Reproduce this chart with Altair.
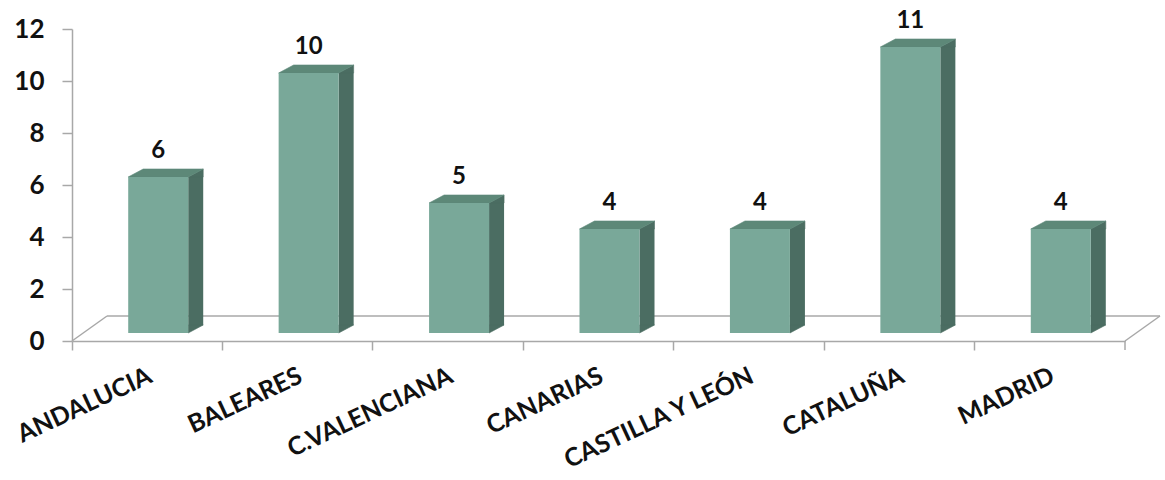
import altair as alt
import pandas as pd

# ---- data ----
regions = ["ANDALUCIA", "BALEARES", "C.VALENCIANA", "CANARIAS",
           "CASTILLA Y LEÓN", "CATALUÑA", "MADRID"]
counts = [6, 10, 5, 4, 4, 11, 4]
y_ticks = [0, 2, 4, 6, 8, 10, 12]

df = pd.DataFrame({"region": regions, "count": counts})
one = pd.DataFrame({"z": [0]})

# ---- layout / style ----
W, H = 1053, 312
DX, DY = 11, 8          # shift of the front face (perspective)
BW = 60                 # bar face width
SX, SY = 15, 8          # bar depth
FX, FY = 35, 25         # floor depth
FRONT = "#79a899"
TOP = "#5d8878"
SIDE = "#4b6d62"
AXIS = "#a8a8a8"
FONT = "Lato"

y_scale = alt.Scale(domain=[0, 12], nice=False)

x_enc = alt.X(
    "region:N", sort=regions,
    scale=alt.Scale(paddingInner=0, paddingOuter=0),
    axis=alt.Axis(title=None, bandPosition=0, labelOffset=3,
                  labelAngle=-25, labelAlign="right", labelBaseline="middle",
                  labelPadding=24, labelFont=FONT, labelFontSize=25,
                  labelFontWeight="bold", labelColor="#111111", labelLimit=0,
                  labelOverlap=False, labelBound=False, labelFlush=False,
                  tickSize=9, tickColor=AXIS, tickWidth=1.5,
                  domainColor=AXIS, domainWidth=1.5, grid=False),
)
y_axis = alt.Axis(title=None, values=y_ticks, grid=False,
                  labelFont=FONT, labelFontSize=26, labelFontWeight="bold",
                  labelColor="#111111", labelPadding=18,
                  tickSize=10, tickColor=AXIS, tickWidth=1.5,
                  domainColor=AXIS, domainWidth=1.5)

base = alt.Chart(df)

# floor (back edge and two side edges)
floor_back = alt.Chart(one).mark_rule(color=AXIS, strokeWidth=1.5, yOffset=-FY).encode(
    x=alt.value(FX), x2=alt.value(W + FX), y=alt.datum(0))
floor_left = alt.Chart(one).mark_rule(color=AXIS, strokeWidth=1.5, y2Offset=-FY).encode(
    x=alt.value(0), x2=alt.value(FX), y=alt.datum(0), y2=alt.datum(0))
floor_right = alt.Chart(one).mark_rule(color=AXIS, strokeWidth=1.5, y2Offset=-FY).encode(
    x=alt.value(W), x2=alt.value(W + FX), y=alt.datum(0), y2=alt.datum(0))
end_tick = alt.Chart(one).mark_rule(color=AXIS, strokeWidth=1.5, y2Offset=9).encode(
    x=alt.value(W), y=alt.datum(0), y2=alt.datum(0))

# bar side face: rectangle + two triangles
side_rect = base.mark_bar(width=SX, color=SIDE, xOffset=DX + BW / 2 + SX / 2,
                          yOffset=-DY, y2Offset=-DY - SY).encode(
    x=x_enc, y=alt.Y("count:Q", scale=y_scale, stack=None, axis=y_axis),
    y2=alt.datum(0))
tri_up = "M-1,0.5333L1,-0.5333L1,0.5333Z"
tri_dn = "M-1,0.5333L-1,-0.5333L1,-0.5333Z"
side_top = base.mark_point(shape=tri_up, size=SX ** 2, filled=True, opacity=1,
                           color=SIDE, stroke=SIDE, strokeWidth=0.6,
                           xOffset=DX + BW / 2 + SX / 2, yOffset=-DY - SY / 2).encode(
    x=x_enc, y=alt.Y("count:Q", scale=y_scale, axis=y_axis))
side_bot = base.mark_point(shape=tri_dn, size=SX ** 2, filled=True, opacity=1,
                           color=SIDE, stroke=SIDE, strokeWidth=0.6,
                           xOffset=DX + BW / 2 + SX / 2, yOffset=-DY - SY / 2).encode(
    x=x_enc, y=alt.datum(0))

# bar top face: parallelogram
top_path = "M-1,0.10667L0.6,0.10667L1,-0.10667L-0.6,-0.10667Z"
top_face = base.mark_point(shape=top_path, size=(BW + SX) ** 2, filled=True, opacity=1,
                           color=TOP, stroke=TOP, strokeWidth=0.6,
                           xOffset=DX + SX / 2, yOffset=-DY - SY / 2).encode(
    x=x_enc, y=alt.Y("count:Q", scale=y_scale, axis=y_axis))

# bar front face
front = base.mark_bar(width=BW, color=FRONT, xOffset=DX,
                      yOffset=-DY, y2Offset=-DY).encode(
    x=x_enc, y=alt.Y("count:Q", scale=y_scale, stack=None, axis=y_axis),
    y2=alt.datum(0))

labels = base.mark_text(font=FONT, fontSize=24, fontWeight="bold", color="#111111",
                        dx=DX, dy=-27, baseline="alphabetic").encode(
    x=x_enc, y=alt.Y("count:Q", scale=y_scale, axis=y_axis), text="count:Q")

chart = alt.layer(
    floor_back, floor_left, floor_right, end_tick,
    side_rect, side_top, side_bot, top_face, front, labels
).properties(
    width=W, height=H,
    autosize=alt.AutoSizeParams(type="none"),
    padding={"left": 72, "top": 29, "right": 40, "bottom": 139},
).configure(background="white").configure_view(stroke=None)

chart.save("out.html", embed_options={"renderer": "svg", "actions": False})
